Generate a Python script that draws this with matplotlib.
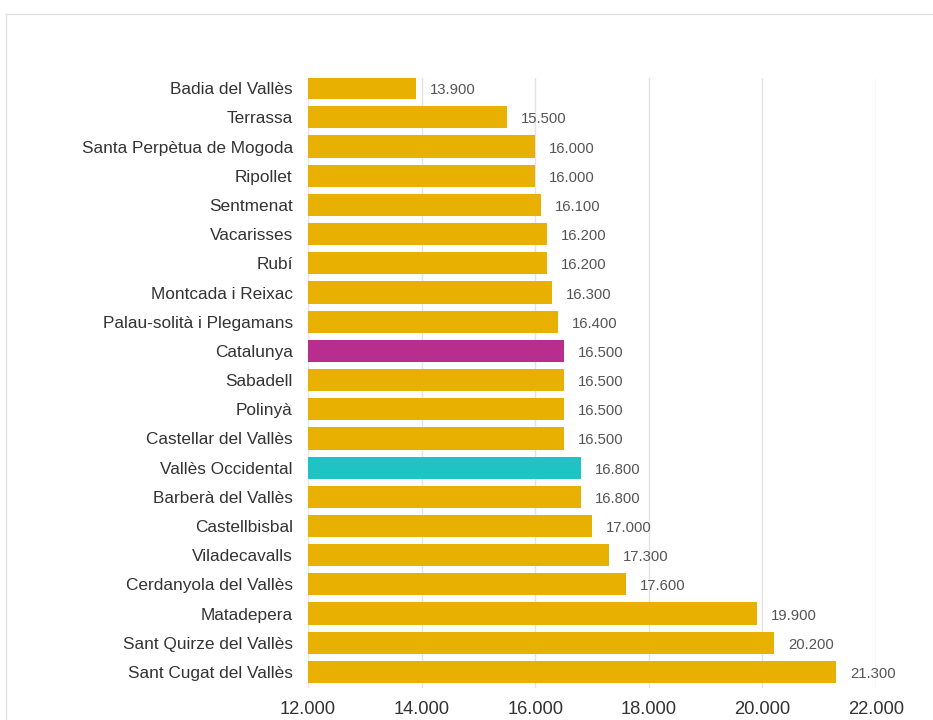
import matplotlib
matplotlib.use("Agg")
import matplotlib.pyplot as plt
from matplotlib.lines import Line2D

categories = ["Badia del Vallès", "Terrassa", "Santa Perpètua de Mogoda", "Ripollet",
              "Sentmenat", "Vacarisses", "Rubí", "Montcada i Reixac",
              "Palau-solità i Plegamans", "Catalunya", "Sabadell", "Polinyà",
              "Castellar del Vallès", "Vallès Occidental", "Barberà del Vallès",
              "Castellbisbal", "Viladecavalls", "Cerdanyola del Vallès",
              "Matadepera", "Sant Quirze del Vallès", "Sant Cugat del Vallès"]
values = [13900, 15500, 16000, 16000, 16100, 16200, 16200, 16300, 16400, 16500,
          16500, 16500, 16500, 16800, 16800, 17000, 17300, 17600, 19900, 20200, 21300]
xticks = [12000, 14000, 16000, 18000, 20000, 22000]
xtick_labels = ["12.000", "14.000", "16.000", "18.000", "20.000", "22.000"]

GOLD = "#E8B000"
MAGENTA = "#B72E8E"
CYAN = "#1FC3C3"
colors = [MAGENTA if c == "Catalunya" else CYAN if c == "Vallès Occidental" else GOLD
          for c in categories]

plt.rcParams['font.family'] = ['Liberation Sans', 'DejaVu Sans']

fig = plt.figure(figsize=(9.33, 7.20), dpi=100)
fig.patch.set_facecolor("white")

# outer frame
fig.add_artist(Line2D([6/933, 1.0], [1 - 14/720, 1 - 14/720], color="#e2e2e2", lw=1.0,
                      transform=fig.transFigure))
fig.add_artist(Line2D([6/933, 6/933], [0, 1 - 14/720], color="#e2e2e2", lw=1.0,
                      transform=fig.transFigure))

ax = fig.add_axes([308/933, 32/720, (876 - 308)/933, (688 - 78)/720])
y = list(range(len(categories)))
ax.barh(y, [v - 12000 for v in values], left=12000, height=0.76, color=colors, zorder=3)
ax.set_xlim(12000, 22000)
ax.set_ylim(len(categories) - 1 + 0.55, -0.35)
ax.set_yticks(y)
ax.set_yticklabels(categories, fontsize=12.4, color="#333333")
ax.set_xticks(xticks)
ax.set_xticklabels(xtick_labels, fontsize=13.2, color="#333333")
ax.tick_params(axis="both", length=0)
ax.tick_params(axis="y", pad=11)
ax.tick_params(axis="x", pad=9)
ax.grid(axis="x", color="#e3e3e3", lw=1, zorder=0)
for s in ax.spines.values():
    s.set_visible(False)

for yi, v in zip(y, values):
    lab = f"{v:,}".replace(",", ".")
    ax.annotate(lab, (v, yi), xytext=(14, -2), textcoords="offset pixels",
                va="center", ha="left", fontsize=10.7,
                color="#555555", clip_on=False, zorder=4)

fig.savefig("out.png", dpi=100, facecolor="white")
